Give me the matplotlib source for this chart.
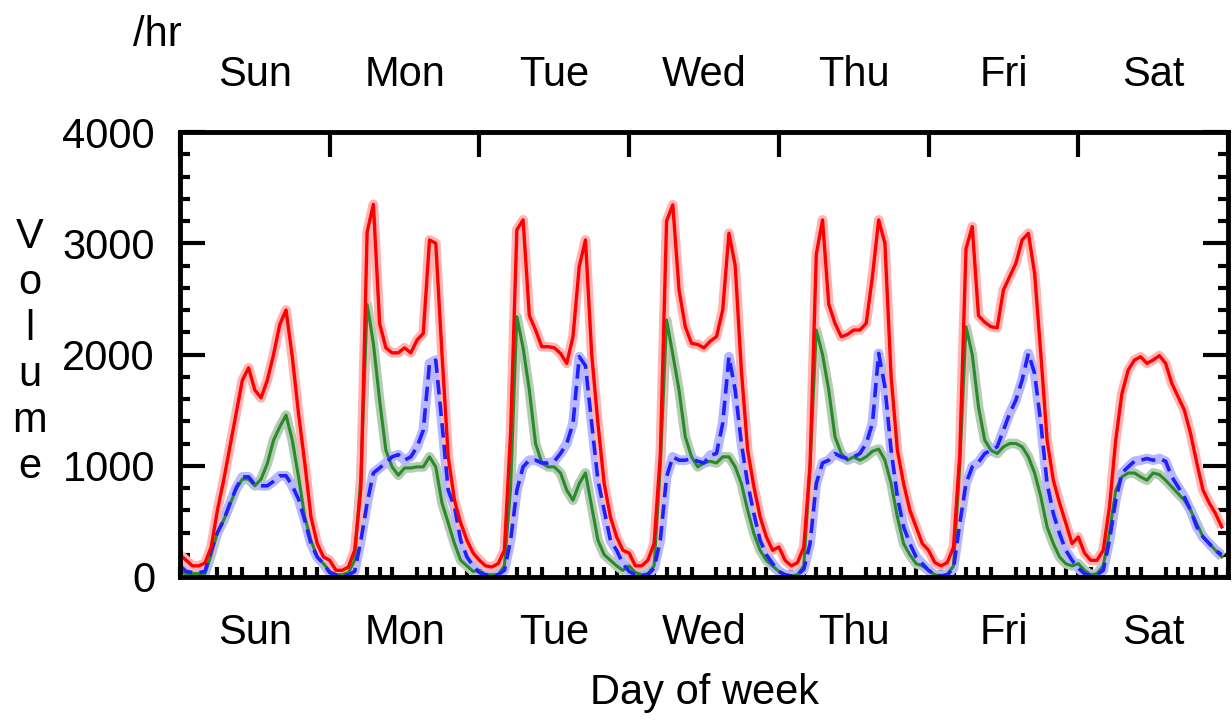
import numpy as np
import matplotlib
matplotlib.use("Agg")
import matplotlib.pyplot as plt

plt.rcParams['font.family'] = ['Liberation Sans', 'DejaVu Sans']

# hourly volumes, Sunday 00h .. Saturday 23h
red = [
    200, 150, 100, 100, 125, 270, 600, 870, 1170, 1475, 1770, 1880, 1680, 1610, 1770, 2000, 2270, 2400, 1980, 1470, 1025, 540, 300, 180,
    150, 60, 60, 90, 240, 800, 3100, 3350, 2280, 2060, 2015, 2015, 2060, 2015, 2130, 2190, 3030, 3000, 2000, 1080, 690, 485, 330, 215,
    150, 100, 90, 120, 240, 1300, 3120, 3210, 2350, 2220, 2070, 2070, 2060, 2010, 1920, 2160, 2790, 3030, 2000, 1380, 840, 540, 360, 240,
    215, 100, 100, 150, 300, 1100, 3200, 3345, 2580, 2250, 2100, 2090, 2060, 2120, 2160, 2400, 3090, 2800, 1850, 1140, 810, 540, 360, 240,
    270, 150, 100, 130, 270, 1000, 2900, 3210, 2450, 2280, 2160, 2180, 2220, 2220, 2280, 2700, 3210, 3000, 1800, 1140, 840, 600, 450, 300,
    240, 130, 100, 130, 270, 1100, 2950, 3150, 2350, 2290, 2250, 2240, 2580, 2700, 2820, 3030, 3090, 2730, 2000, 1230, 870, 665, 485, 300,
    360, 215, 150, 150, 240, 630, 1230, 1650, 1860, 1950, 1980, 1920, 1950, 1990, 1920, 1740, 1620, 1500, 1290, 1025, 780, 665, 570, 450,
]
green = [
    50, 30, 30, 30, 30, 200, 400, 510, 650, 790, 880, 880, 820, 880, 1020, 1230, 1350, 1455, 1230, 900, 540, 330, 180, 120,
    50, 20, 20, 40, 150, 900, 2450, 2100, 1590, 1140, 990, 915, 980, 980, 990, 990, 1080, 990, 665, 485, 300, 150, 100, 50,
    60, 20, 20, 20, 100, 800, 2340, 2060, 1680, 1200, 1025, 990, 990, 935, 780, 690, 840, 935, 630, 330, 200, 150, 100, 60,
    100, 40, 20, 30, 100, 1000, 2310, 2000, 1680, 1260, 1080, 990, 1025, 1040, 1025, 1080, 1080, 990, 840, 600, 390, 240, 150, 100,
    50, 20, 10, 20, 100, 1000, 2220, 2000, 1680, 1260, 1110, 1050, 1080, 1050, 1080, 1130, 1150, 1050, 840, 540, 300, 200, 120, 100,
    60, 20, 10, 20, 100, 1000, 2250, 2000, 1530, 1230, 1140, 1110, 1170, 1200, 1200, 1170, 1080, 935, 720, 450, 300, 180, 120, 100,
    120, 60, 20, 30, 100, 400, 780, 900, 935, 935, 900, 870, 935, 920, 870, 810, 750, 690, 600, 480, 360, 300, 240, 180,
]
blue = [
    100, 50, 40, 40, 50, 240, 400, 510, 660, 800, 900, 900, 830, 820, 820, 860, 910, 910, 820, 700, 510, 300, 180, 120,
    40, 20, 10, 20, 50, 330, 665, 935, 980, 1025, 1080, 1100, 1050, 1080, 1170, 1320, 1920, 1950, 1380, 780, 630, 330, 180, 100,
    40, 20, 20, 20, 60, 330, 780, 990, 1050, 1050, 1025, 1025, 1040, 1110, 1200, 1380, 1980, 1900, 1380, 870, 600, 330, 240, 120,
    50, 20, 10, 20, 80, 330, 900, 1080, 1050, 1050, 1065, 1040, 1025, 1095, 1110, 1380, 1980, 1680, 1200, 840, 570, 330, 200, 120,
    50, 20, 10, 20, 70, 300, 840, 1025, 1050, 1110, 1080, 1065, 1080, 1110, 1200, 1380, 2010, 1710, 1140, 720, 450, 300, 180, 120,
    60, 20, 10, 20, 80, 480, 840, 990, 1030, 1110, 1140, 1170, 1320, 1470, 1590, 1770, 2010, 1830, 1380, 840, 570, 390, 240, 150,
    80, 30, 10, 20, 60, 330, 690, 935, 990, 1040, 1050, 1065, 1050, 1065, 1040, 900, 810, 720, 600, 450, 360, 300, 240, 200,
]
days = ['Sun', 'Mon', 'Tue', 'Wed', 'Thu', 'Fri', 'Sat']

hours = np.arange(len(red))

fig = plt.figure(figsize=(12.32, 7.26), dpi=100)
ax = fig.add_axes([180/1232, 1 - 577/726, 1048/1232, 445/726])

# pale halo under each line, then the line itself
ax.plot(hours, green, color='#b4ccb4', lw=7, solid_capstyle='butt')
ax.plot(hours, blue, color='#b8b8ff', lw=7, solid_capstyle='butt')
ax.plot(hours, red, color='#ffb4b4', lw=7, solid_capstyle='butt')
ax.plot(hours, green, color='#2a8a2a', lw=2.2)
ax.plot(hours, blue, color='#2020ff', lw=2.6, ls=(0, (4, 2)))
ax.plot(hours, red, color='#ff0000', lw=2.4)

ax.set_xlim(0, 168)
ax.set_ylim(0, 4000)

for s in ax.spines.values():
    s.set_linewidth(3.5)

fs = 30
ax.set_yticks([0, 1000, 2000, 3000, 4000])
ax.set_yticks(np.arange(0, 4001, 200), minor=True)
ax.set_yticklabels(['0', '1000', '2000', '3000', '4000'], fontsize=fs)
ax.tick_params(axis='y', which='major', direction='in', length=18, width=3,
               left=True, right=True, pad=18)
ax.tick_params(axis='y', which='minor', direction='in', length=7.5, width=3,
               left=True, right=True)

centers = np.arange(12, 168, 24)
ax.set_xticks(centers)
ax.set_xticklabels(days, fontsize=fs)
ax.set_xticks(np.arange(0, 169, 2), minor=True)
ax.tick_params(axis='x', which='major', length=0, pad=26)
ax.tick_params(axis='x', which='minor', direction='in', length=7.5, width=3,
               bottom=True, top=True)

top = ax.twiny()
top.set_xlim(0, 168)
top.set_xticks(np.arange(0, 169, 24))
top.set_xticklabels([''] * 8)
top.set_xticks(centers, minor=True)
top.set_xticklabels(days, minor=True, fontsize=fs)
top.tick_params(axis='x', which='major', direction='in', length=18, width=3)
top.tick_params(axis='x', which='minor', length=0, pad=27)
for s in top.spines.values():
    s.set_visible(False)

ax.set_xlabel('Day of week', fontsize=fs, labelpad=14)
fig.text(30/1232, 1 - 352/726, 'V\no\nl\nu\nm\ne', fontsize=fs, ha='center',
         va='center', linespacing=1.2)
fig.text(133/1232, 1 - 46/726, '/hr', fontsize=fs)

fig.savefig('out.png', dpi=100)
